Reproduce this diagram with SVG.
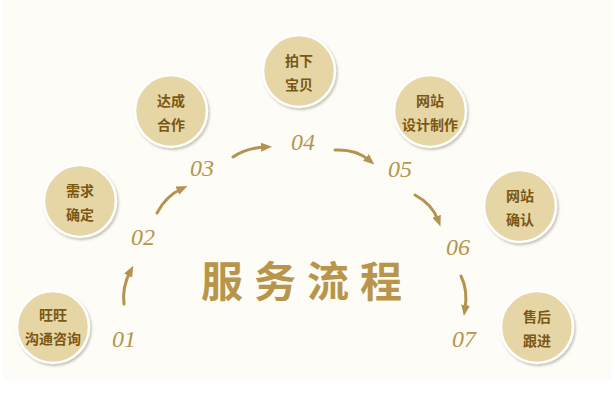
<svg xmlns="http://www.w3.org/2000/svg" width="615" height="408" viewBox="0 0 615 408">
<style>
.node circle{fill:#e6d6a6;stroke:#ffffff;stroke-width:2.5;filter:url(#sh)}
.node text{font-family:"Noto Sans CJK SC","Noto Sans",sans-serif;font-size:14px;font-weight:700;fill:#7a5712;text-anchor:middle}
.num{font-family:"Liberation Serif","Times New Roman",serif;font-style:italic;font-size:24px;fill:#b5954f;text-anchor:middle}
.conn path{fill:none;stroke:#b39350;stroke-width:3;stroke-linecap:round;marker-end:url(#ah)}
.title{font-family:"Noto Sans CJK SC",sans-serif;font-size:42px;font-weight:700;fill:#b8954a;letter-spacing:11px}
</style>
<defs>
<filter id="sh" x="-20%" y="-20%" width="140%" height="140%">
<feDropShadow dx="1.5" dy="2" stdDeviation="1.2" flood-color="#8a8470" flood-opacity="0.45"/>
</filter>
<marker id="ah" markerUnits="userSpaceOnUse" markerWidth="12" markerHeight="10" refX="4" refY="4.5" orient="auto">
<path d="M0,0 L11,4.5 L0,9 z" fill="#b39350"/>
</marker>
</defs>
<rect x="0" y="0" width="615" height="408" fill="#ffffff"/>
<rect x="3" y="0" width="609" height="379" fill="#fdfcf6"/>
<g id="title"><text class="title" x="201" y="297">服务流程</text></g>
<g id="n1" class="node"><circle cx="53" cy="327" r="36"/><text x="53" y="320">旺旺</text><text x="53" y="344">沟通咨询</text></g>
<g id="n2" class="node"><circle cx="80" cy="201" r="36"/><text x="80" y="196">需求</text><text x="80" y="220">确定</text></g>
<g id="n3" class="node"><circle cx="171" cy="111" r="36"/><text x="171" y="106">达成</text><text x="171" y="130">合作</text></g>
<g id="n4" class="node"><circle cx="299" cy="71" r="36"/><text x="299" y="66">拍下</text><text x="299" y="90">宝贝</text></g>
<g id="n5" class="node"><circle cx="430" cy="111" r="36"/><text x="430" y="106">网站</text><text x="430" y="130">设计制作</text></g>
<g id="n6" class="node"><circle cx="520" cy="206" r="36"/><text x="520" y="201">网站</text><text x="520" y="225">确认</text></g>
<g id="n7" class="node"><circle cx="537" cy="327" r="36"/><text x="537" y="322">售后</text><text x="537" y="346">跟进</text></g>
<g id="numbers">
<text class="num" x="124" y="347">01</text>
<text class="num" x="143" y="245">02</text>
<text class="num" x="202" y="176">03</text>
<text class="num" x="303" y="150">04</text>
<text class="num" x="400" y="177">05</text>
<text class="num" x="458" y="255">06</text>
<text class="num" x="464" y="347">07</text>
</g>
<g id="connectors" class="conn">
<path d="M124,304 Q122,287 130,272"/>
<path d="M157,213 Q166,196 181,189"/>
<path d="M233,157 Q246,148 265,147"/>
<path d="M335,150 Q356,149 369,160"/>
<path d="M415,195 Q432,204 438,220"/>
<path d="M461,276 Q468,290 465,309"/>
</g>
</svg>
